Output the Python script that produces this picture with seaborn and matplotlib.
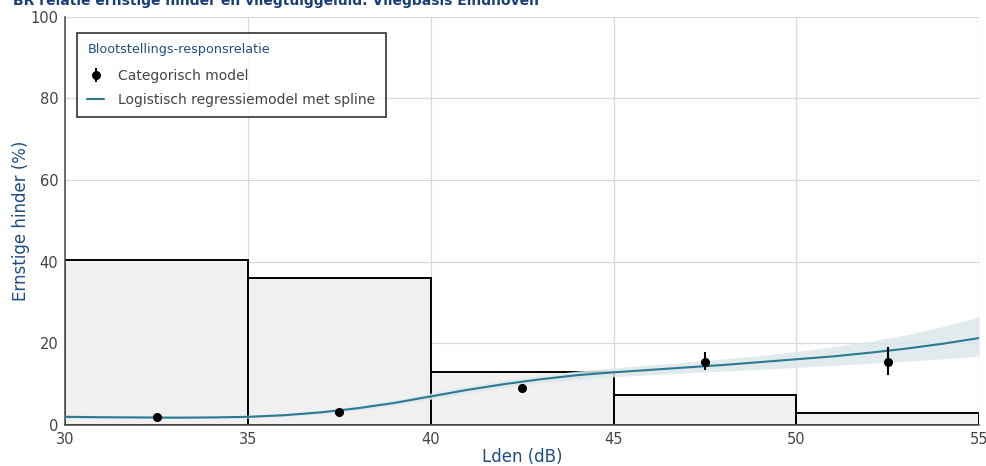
import numpy as np
import pandas as pd
import matplotlib
matplotlib.use("Agg")
import matplotlib.pyplot as plt
import seaborn as sns

# categorical model: bins and observed % severely annoyed
bin_edges = [30, 35, 40, 45, 50, 55]
bin_share = [40.5, 36.0, 13.1, 7.3, 3.0]
cat_x = [32.5, 37.5, 42.5, 47.5, 52.5]
cat_y = [2.0, 3.3, 9.1, 15.5, 15.4]
cat_lo = [1.6, 2.8, 8.2, 13.5, 12.3]
cat_hi = [2.4, 3.9, 10.0, 18.0, 19.0]

# logistic regression with spline
lden = [30, 31, 32, 33, 34, 35, 36, 37, 38, 39, 40, 41, 42, 43, 44, 45,
        46, 47, 48, 49, 50, 51, 52, 53, 54, 55]
fit = [2.0, 1.9, 1.85, 1.8, 1.85, 2.0, 2.4, 3.1, 4.1, 5.4, 7.0, 8.6, 10.0,
       11.2, 12.2, 12.9, 13.5, 14.1, 14.7, 15.4, 16.1, 16.8, 17.7, 18.7, 19.9, 21.3]
fit_lo = [1.6, 1.6, 1.6, 1.6, 1.6, 1.7, 2.1, 2.7, 3.6, 4.8, 6.3, 7.8, 9.2,
          10.3, 11.1, 11.8, 12.3, 12.8, 13.2, 13.6, 14.1, 14.6, 15.1, 15.6, 16.2, 16.9]
fit_hi = [2.5, 2.3, 2.2, 2.1, 2.1, 2.4, 2.8, 3.6, 4.7, 6.1, 7.8, 9.5, 10.9,
          12.2, 13.2, 14.0, 14.7, 15.4, 16.2, 17.0, 18.0, 19.2, 20.5, 22.1, 24.1, 26.5]

blue = "#1f4e85"
teal = "#2b7a93"
grey = "#555555"

sns.set_theme(style="whitegrid")
plt.rcParams['font.family'] = ['DejaVu Sans']

fig = plt.figure(figsize=(9.87, 4.66), dpi=100)
ax = fig.add_axes([0.066, 0.088, 0.926, 0.876])

sns.histplot(x=cat_x, weights=bin_share, bins=bin_edges, stat="count",
             color="#f0f0f0", edgecolor="black", linewidth=1.4, alpha=1,
             ax=ax, zorder=2)

ax.fill_between(lden, fit_lo, fit_hi, color="#dce8ec", alpha=0.85, lw=0, zorder=3)
df = pd.DataFrame({"x": lden, "y": fit})
sns.lineplot(data=df, x="x", y="y", color=teal, linewidth=1.5, ax=ax, zorder=4,
             label="Logistisch regressiemodel met spline")

yerr = [np.array(cat_y) - np.array(cat_lo), np.array(cat_hi) - np.array(cat_y)]
ax.errorbar(cat_x, cat_y, yerr=yerr, fmt="o", color="black", ms=5.5,
            elinewidth=1.5, capsize=0, zorder=5, label="Categorisch model")

ax.set_xlim(30, 55)
ax.set_ylim(0, 100)
ax.set_xticks([30, 35, 40, 45, 50, 55])
ax.set_yticks([0, 20, 40, 60, 80, 100])
ax.grid(True, color="#d9d9d9", linewidth=0.9)
ax.set_axisbelow(True)
for s in ["top", "right"]:
    ax.spines[s].set_visible(False)
for s in ["left", "bottom"]:
    ax.spines[s].set_color(grey)
    ax.spines[s].set_linewidth(1.2)
ax.tick_params(axis="both", colors=grey, labelcolor="#444444", labelsize=10.5,
               length=4, width=1, direction="out", pad=1)
ax.set_xlabel("Lden (dB)", color=blue, fontsize=12, labelpad=1)
ax.set_ylabel("Ernstige hinder (%)", color=blue, fontsize=12, labelpad=0.5)

h, l = ax.get_legend_handles_labels()
order = [l.index("Categorisch model"), l.index("Logistisch regressiemodel met spline")]
leg = ax.legend([h[i] for i in order], [l[i] for i in order],
                title="Blootstellings-responsrelatie", loc="upper left",
                bbox_to_anchor=(0.013, 0.961), borderaxespad=0, frameon=True,
                fancybox=False, edgecolor="black", fontsize=10, title_fontsize=9.2,
                borderpad=0.75, labelspacing=0.75, handlelength=1.2,
                handletextpad=1.0)
leg.get_frame().set_linewidth(1.2)
leg._legend_box.align = "left"
leg._legend_box.sep = 9
leg.get_title().set_color(blue)
for t in leg.get_texts():
    t.set_color("#444444")

fig.text(0.013, 0.989, "BR relatie ernstige hinder en vliegtuiggeluid: Vliegbasis Eindhoven",
         color="#1a3f78", fontsize=10, fontweight="bold", va="baseline", ha="left")

fig.savefig("out.png", dpi=100)
